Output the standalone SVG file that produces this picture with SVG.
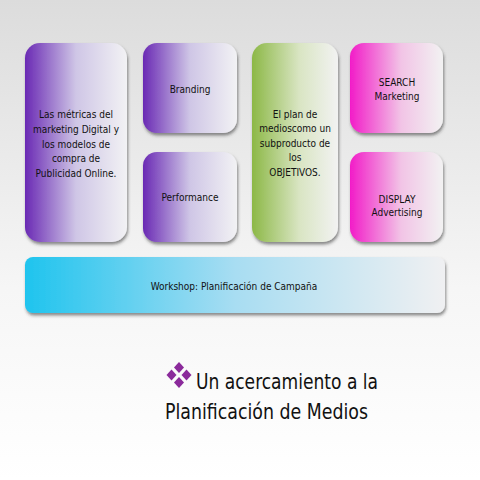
<svg xmlns="http://www.w3.org/2000/svg" width="480" height="480" viewBox="0 0 480 480">
<defs>
<linearGradient id="bg" x1="0" y1="0" x2="0" y2="1"><stop offset="0" stop-color="#dcdcdc"/><stop offset="0.6" stop-color="#f6f6f6"/><stop offset="1" stop-color="#ffffff"/></linearGradient>
<linearGradient id="gP" x1="0" y1="0" x2="1" y2="0"><stop offset="0" stop-color="#6a2ab4"/><stop offset="0.5" stop-color="#cfc6e6"/><stop offset="1" stop-color="#f2f2f4"/></linearGradient>
<linearGradient id="gG" x1="0" y1="0" x2="1" y2="0"><stop offset="0" stop-color="#8cb846"/><stop offset="0.55" stop-color="#d9e5c3"/><stop offset="1" stop-color="#f2f2f2"/></linearGradient>
<linearGradient id="gM" x1="0" y1="0" x2="1" y2="0"><stop offset="0" stop-color="#f21cc8"/><stop offset="0.55" stop-color="#f2c4e6"/><stop offset="1" stop-color="#f2f2f2"/></linearGradient>
<linearGradient id="gC" x1="0" y1="0" x2="1" y2="0"><stop offset="0" stop-color="#1fc4ee"/><stop offset="0.5" stop-color="#a8ddf2"/><stop offset="1" stop-color="#f0f0f2"/></linearGradient>
<filter id="sh" x="-10%" y="-10%" width="120%" height="125%"><feDropShadow dx="1" dy="2.5" stdDeviation="1.5" flood-color="#333" flood-opacity="0.55"/></filter>
</defs>
<style>
.t{font-family:"DejaVu Sans Condensed","DejaVu Sans",sans-serif;font-stretch:condensed;font-size:10px;fill:#111;text-anchor:middle}
.h{font-family:"DejaVu Sans Condensed","DejaVu Sans",sans-serif;font-stretch:condensed;font-size:21px;fill:#111}
</style>
<rect width="480" height="480" fill="url(#bg)"/>
<g id="node-metricas"><rect x="25" y="43" width="102" height="199" rx="15" fill="url(#gP)" filter="url(#sh)"/>
<text class="t" x="76" y="118">Las métricas del</text><text class="t" x="76" y="133">marketing Digital y</text><text class="t" x="76" y="148">los modelos de</text><text class="t" x="76" y="162">compra de</text><text class="t" x="76" y="177">Publicidad Online.</text></g>
<g id="node-branding"><rect x="143" y="43" width="94" height="90" rx="14" fill="url(#gP)" filter="url(#sh)"/><text class="t" x="190" y="93">Branding</text></g>
<g id="node-performance"><rect x="143" y="152" width="94" height="90" rx="14" fill="url(#gP)" filter="url(#sh)"/><text class="t" x="190" y="201">Performance</text></g>
<g id="node-plan"><rect x="252" y="43" width="86" height="199" rx="15" fill="url(#gG)" filter="url(#sh)"/>
<text class="t" x="295" y="118">El plan de</text><text class="t" x="295" y="132">medioscomo un</text><text class="t" x="295" y="147">subproducto de</text><text class="t" x="295" y="161">los</text><text class="t" x="295" y="176">OBJETIVOS.</text></g>
<g id="node-search"><rect x="350" y="43" width="93" height="90" rx="14" fill="url(#gM)" filter="url(#sh)"/><text class="t" x="397" y="86">SEARCH</text><text class="t" x="397" y="100">Marketing</text></g>
<g id="node-display"><rect x="350" y="152" width="93" height="90" rx="14" fill="url(#gM)" filter="url(#sh)"/><text class="t" x="397" y="203">DISPLAY</text><text class="t" x="397" y="216">Advertising</text></g>
<g id="node-workshop"><rect x="25" y="257" width="420" height="56" rx="8" fill="url(#gC)" filter="url(#sh)"/><text class="t" x="234" y="290">Workshop: Planificación de Campaña</text></g>
<g id="connectors"></g>
<g id="title">
<g fill="#8b2a9b"><path d="M179 362 l5 5.5 l-5 5.5 l-5 -5.5z"/><path d="M171.5 369.5 l5 5.5 l-5 5.5 l-5 -5.5z"/><path d="M186.5 369.5 l5 5.5 l-5 5.5 l-5 -5.5z"/><path d="M179 377 l5 5.5 l-5 5.5 l-5 -5.5z"/></g>
<text class="h" x="196" y="389" textLength="182" lengthAdjust="spacingAndGlyphs">Un acercamiento a la</text>
<text class="h" x="165" y="419" textLength="203" lengthAdjust="spacingAndGlyphs">Planificación de Medios</text>
</g>
</svg>
